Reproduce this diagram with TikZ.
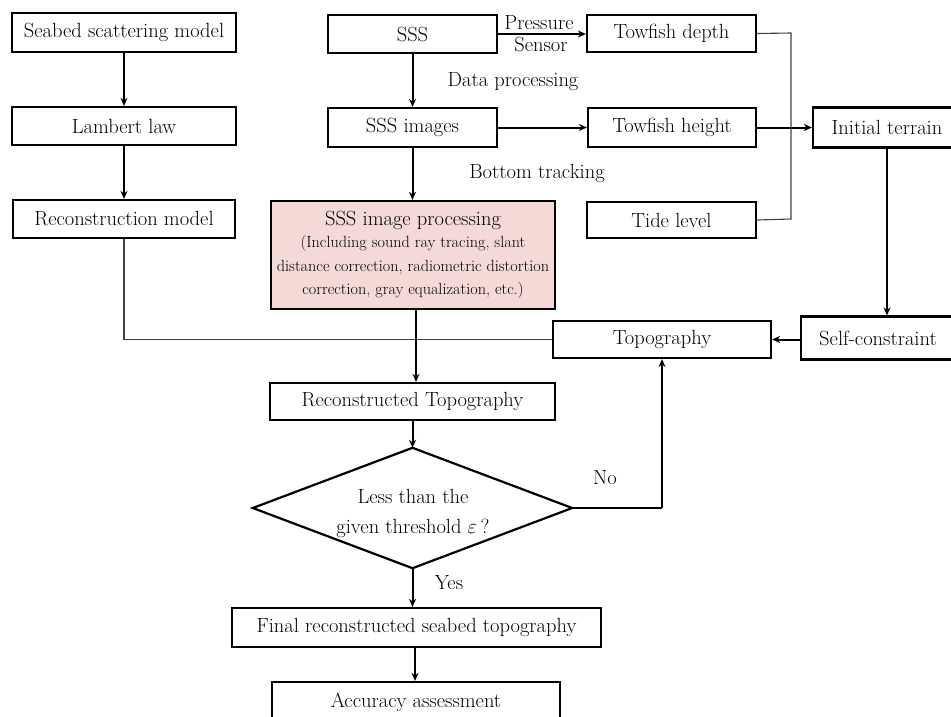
\documentclass[tikz,border=0pt]{standalone}
\usepackage{fontspec}
\usetikzlibrary{shapes.geometric,arrows.meta}
\definecolor{procfill}{HTML}{F5D9D6}
\begin{document}
\begin{tikzpicture}[x=1pt,y=-1pt,
  every node/.style={font=\fontsize{20.5}{24}\selectfont},
  box/.style={draw=black,line width=2.2pt,rectangle,inner sep=0pt,align=center},
  arr/.style={-{Stealth[length=8pt,width=7pt]},line width=2pt},
  thinline/.style={line width=1.1pt,draw=black!75},
  lbl/.style={inner sep=0pt,align=center}]
\useasboundingbox (0,0) rectangle (951,716);
\clip (0,0) rectangle (951,716);
% left column
\node[box,minimum width=224,minimum height=39] (seabed) at (124,32.5) {Seabed scattering model};
\node[box,minimum width=224,minimum height=38] (lambert) at (124,126) {Lambert law};
\node[box,minimum width=222,minimum height=38] (recon) at (124,219) {Reconstruction model};
% middle column
\node[box,minimum width=169,minimum height=38] (sss) at (412.5,34) {SSS};
\node[box,minimum width=169,minimum height=39] (sssimg) at (412.5,127.5) {SSS images};
\node[box,fill=procfill,minimum width=284,minimum height=108,
  font=\fontsize{16.2}{23.5}\selectfont] (proc) at (413,255)
  {\fontsize{20.5}{24}\selectfont SSS image processing\\[-1pt]
   \fontsize{16.2}{23.5}\selectfont (Including sound ray tracing, slant\\distance correction, radiometric distortion\\correction, gray equalization, etc.)};
% right column
\node[box,minimum width=169,minimum height=37] (depth) at (671.5,33.5) {Towfish depth};
\node[box,minimum width=168,minimum height=39] (height) at (672,127.5) {Towfish height};
\node[box,minimum width=169,minimum height=36] (tide) at (671.5,220) {Tide level};
\node[box,minimum width=148,minimum height=40] (initial) at (887,127.5) {Initial terrain};
\node[box,minimum width=154,minimum height=43] (self) at (878,338) {Self-constraint};
\node[box,minimum width=218,minimum height=37] (topo) at (662,339.5) {Topography};
% lower flow
\node[box,minimum width=285,minimum height=37] (rtopo) at (412.5,401.5) {Reconstructed Topography};
\node[rectangle,inner sep=0pt,minimum width=319,minimum height=120] (dec) at (412.5,508) {};
\draw[line width=2.2pt,line join=miter] (dec.north) -- (dec.east) -- (dec.south) -- (dec.west) -- cycle;
\node[lbl,font=\fontsize{20.5}{30}\selectfont] (dectxt) at (413,513) {Less than the\\given threshold $\varepsilon$\,?};
\node[box,minimum width=369,minimum height=39] (final) at (416.5,627.5) {Final reconstructed seabed topography};
\node[box,minimum width=288,minimum height=40] (acc) at (416,702) {Accuracy assessment};
% labels
\node[lbl] (lp) at (539,23) {Pressure};
\node[lbl] (ls) at (541,44) {Sensor};
\node[lbl] (ldp) at (513,82) {Data processing};
\node[lbl] (lbt) at (537,173) {Bottom tracking};
\node[lbl] (lno) at (605,478) {No};
\node[lbl] (lyes) at (449,583) {Yes};
% coordinates
\coordinate (bx) at (791,33);
\coordinate (by) at (791,219);
\coordinate (nc) at (662,508);
% connectors
\draw[arr] (seabed) -- (lambert);
\draw[arr] (lambert) -- (recon);
\draw[arr] (sss) -- (sssimg);
\draw[arr] (sssimg) -- (proc.north -| sssimg);
\draw[arr] (sss.east) -- (depth.west |- sss.east);
\draw[arr] (sssimg.east) -- (height.west |- sssimg.east);
\draw[arr] (height.east) -- (initial.west |- height.east);
\draw[thinline] (depth.east) -- (bx) -- (by) -- (tide.east);
\draw[arr] (initial.south) -- (self.north -| initial.south);
\draw[arr] (self.west |- topo.east) -- (topo.east);
\draw[thinline] (recon.south) -- (recon.south |- topo.west) -- (topo.west);
\draw[arr] (proc.south -| 416,0) -- (rtopo.north -| 416,0);
\draw[arr] (rtopo) -- (dec.north);
\draw[line width=2pt] (dec.east) -- (nc);
\draw[arr] (nc) -- (topo.south -| nc);
\draw[arr] (dec.south) -- (final.north -| dec.south);
\draw[arr] (final.south -| 415,0) -- (acc.north -| 415,0);
\end{tikzpicture}
\end{document}
